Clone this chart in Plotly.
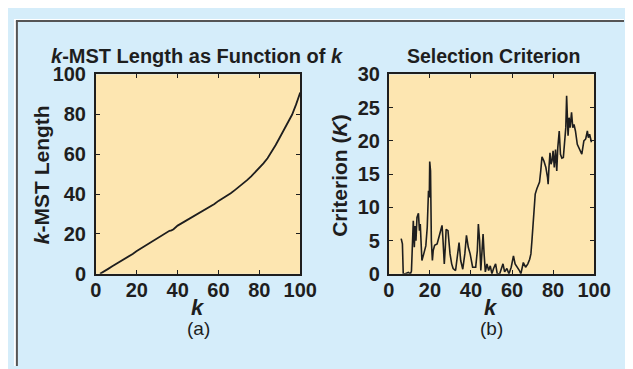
import plotly.graph_objects as go

# ---- data ----
k_a = [2, 4, 6, 8, 10, 12, 14, 16, 18, 20, 22, 24, 26, 28, 30, 32, 34, 36, 37, 38,
       40, 42, 44, 46, 48, 50, 52, 54, 56, 57, 58, 60, 62, 64, 66, 68, 70, 72, 74, 76,
       78, 80, 82, 84, 86, 88, 90, 92, 94, 96, 98, 99, 100]
mst_len = [0.0, 1.1, 2.5, 3.8, 5.0, 6.4, 7.6, 8.9, 10.0, 11.5, 12.8, 14.2, 15.4, 16.8,
           18.0, 19.2, 20.4, 21.6, 21.8, 22.4, 24.2, 25.4, 26.6, 28.0, 29.2, 30.4, 31.6,
           32.8, 34.0, 34.2, 35.0, 36.6, 37.8, 38.9, 40.4, 42.0, 43.6, 45.2, 47.0, 48.9,
           51.0, 53.2, 55.4, 58.0, 61.0, 64.6, 68.4, 72.0, 75.6, 79.8, 85.0, 88.5, 91.0]

k_b = [6.0, 6.6, 7.0, 8.0, 9.5, 10.5, 11.0, 11.6, 11.9, 12.4, 12.8, 13.2, 13.7, 14.4,
       14.9, 15.3, 16.1, 17.0, 18.0, 18.7, 19.3, 19.7, 19.9, 20.3, 20.7, 21.2, 21.6,
       22.3, 23.5, 24.8, 25.9, 26.3, 27.0, 27.5, 27.9, 28.8, 29.8, 30.6, 31.3, 32.5,
       33.2, 34.2, 35.0, 36.0, 37.0, 37.8, 38.7, 39.6, 40.8, 42.3, 43.1, 43.6, 44.2,
       44.8, 45.3, 45.9, 46.4, 47.0, 47.8, 48.6, 49.4, 50.2, 51.0, 52.0, 52.8, 54.0,
       55.6, 56.4, 57.5, 58.5, 59.6, 60.7, 61.5, 62.7, 63.6, 64.3, 65.5, 66.6, 67.7,
       68.6, 69.2, 69.7, 70.3, 70.8, 71.3, 72.1, 73.4, 74.0, 74.6, 75.5, 76.5, 77.3,
       77.6, 78.0, 78.5, 79.0, 79.5, 80.0, 80.6, 81.2, 81.8, 82.3, 83.0, 83.6, 84.3,
       85.0, 85.6, 86.2, 86.6, 86.9, 87.3, 87.8, 88.3, 89.0, 89.6, 90.2, 90.9, 91.8,
       93.3, 94.0, 95.0, 95.9, 96.7, 97.2, 97.8, 98.7]
criterion = [5.3, 4.5, 0.0, 0.0, 0.2, 0.0, 0.4, 5.5, 8.0, 4.0, 7.2, 5.0, 8.5, 9.1,
             6.5, 7.5, 2.0, 3.0, 4.2, 7.0, 12.5, 11.5, 16.9, 15.5, 5.0, 2.0, 3.5,
             4.3, 4.5, 6.0, 7.3, 5.5, 1.5, 4.0, 6.7, 6.5, 3.0, 1.5, 0.8, 0.5,
             2.5, 4.7, 2.0, 0.7, 3.0, 5.8, 4.0, 3.0, 1.0, 1.0, 3.5, 7.5, 5.0,
             0.5, 3.0, 6.0, 3.0, 0.3, 1.5, 0.5, 1.2, 0.0, 0.8, 1.5, 0.0, 0.0,
             1.5, 0.3, 0.8, 0.0, 1.0, 2.7, 1.5, 1.0, 0.5, 0.0, 1.7, 1.0, 1.5,
             2.2, 3.0, 5.0, 8.0, 10.0, 12.0, 12.8, 13.8, 15.5, 17.6, 17.0, 16.0, 14.5,
             13.5, 16.0, 18.2, 16.5, 17.0, 18.5, 16.0, 18.7, 15.5, 19.0, 21.5, 18.0, 17.4,
             17.5, 19.5, 22.0, 26.8, 22.0, 20.8, 23.5, 22.0, 24.3, 22.0, 22.5, 21.5, 19.5,
             18.5, 18.0, 20.0, 20.3, 21.5, 20.5, 21.0, 19.8]

x_ticks = [0, 20, 40, 60, 80, 100]
y_ticks_a = [0, 20, 40, 60, 80, 100]
y_ticks_b = [0, 5, 10, 15, 20, 25, 30]

W, H = 633, 369
OFF = 8  # page offset of the figure (body margin)
LINE = "#1e1e1e"
PLOT_BG = "#fde6b1"
PANEL_BG = "#d5edfa"
FONT = "Liberation Sans"

def px(x):
    return (x - OFF) / W

def py(y):
    return (H - (y - OFF)) / H

fig = go.Figure()
fig.add_trace(go.Scatter(x=k_a, y=mst_len, mode="lines",
                         line=dict(color=LINE, width=1.8), xaxis="x", yaxis="y",
                         showlegend=False, hoverinfo="skip"))
fig.add_trace(go.Scatter(x=k_b, y=criterion, mode="lines",
                         line=dict(color=LINE, width=1.6), xaxis="x2", yaxis="y2",
                         showlegend=False, hoverinfo="skip"))

tickfont = dict(family=FONT, size=20, color=LINE, weight="bold")
axis_common = dict(showline=True, linecolor=LINE, linewidth=1.8, mirror="ticks",
                   ticks="inside", ticklen=4, tickwidth=1.4, tickcolor=LINE,
                   showgrid=False, zeroline=False, tickfont=tickfont, fixedrange=True)

fig.update_layout(
    width=W, height=H,
    margin=dict(l=0, r=0, t=0, b=0),
    paper_bgcolor=PANEL_BG,
    plot_bgcolor=PLOT_BG,
    xaxis=dict(domain=[px(93), px(305)], range=[0, 100], tickvals=x_ticks,
               anchor="y", ticklabelstandoff=-3, **axis_common),
    yaxis=dict(domain=[py(279), py(67)], range=[0, 100], tickvals=y_ticks_a,
               anchor="x", ticklabelstandoff=4, **axis_common),
    xaxis2=dict(domain=[px(397), px(610)], range=[0, 100], tickvals=x_ticks,
                anchor="y2", ticklabelstandoff=-3, **axis_common),
    yaxis2=dict(domain=[py(279), py(67)], range=[0, 30], tickvals=y_ticks_b,
                anchor="x2", ticklabelstandoff=3, **axis_common),
    shapes=[
        dict(type="rect", xref="paper", yref="paper", x0=0, x1=1.0,
             y0=py(9), y1=1.0, fillcolor="white", line=dict(width=0)),
        dict(type="rect", xref="paper", yref="paper", x0=0, x1=px(10),
             y0=0, y1=1.0, fillcolor="white", line=dict(width=0)),
        dict(type="line", xref="paper", yref="paper", x0=px(10), x1=1.0,
             y0=py(10), y1=py(10), line=dict(color="#555555", width=2)),
        dict(type="line", xref="paper", yref="paper", x0=px(11), x1=px(11),
             y0=0, y1=py(10), line=dict(color="#555555", width=2)),
    ],
)

def ann(text, x, y, size, angle=0, weight="bold"):
    fig.add_annotation(text=text, xref="paper", yref="paper", x=px(x), y=py(y),
                       showarrow=False, textangle=angle, xanchor="center", yanchor="middle",
                       font=dict(family=FONT, size=size, color=LINE, weight=weight))

ann("<i>k</i>-MST Length as Function of <i>k</i>", 198, 47, 20)
ann("Selection Criterion", 506, 47, 19.5)
ann("<i>k</i>", 199, 315, 22)
ann("(a)", 199, 337, 19, weight="normal")
ann("<i>k</i>", 503, 315, 22)
ann("(b)", 503, 337, 19, weight="normal")
ann("<i>k</i>-MST Length", 36, 173, 21, angle=-90)
ann("Criterion (<i>K</i>)", 345, 174, 21, angle=-90)

fig.write_html("out.html")
